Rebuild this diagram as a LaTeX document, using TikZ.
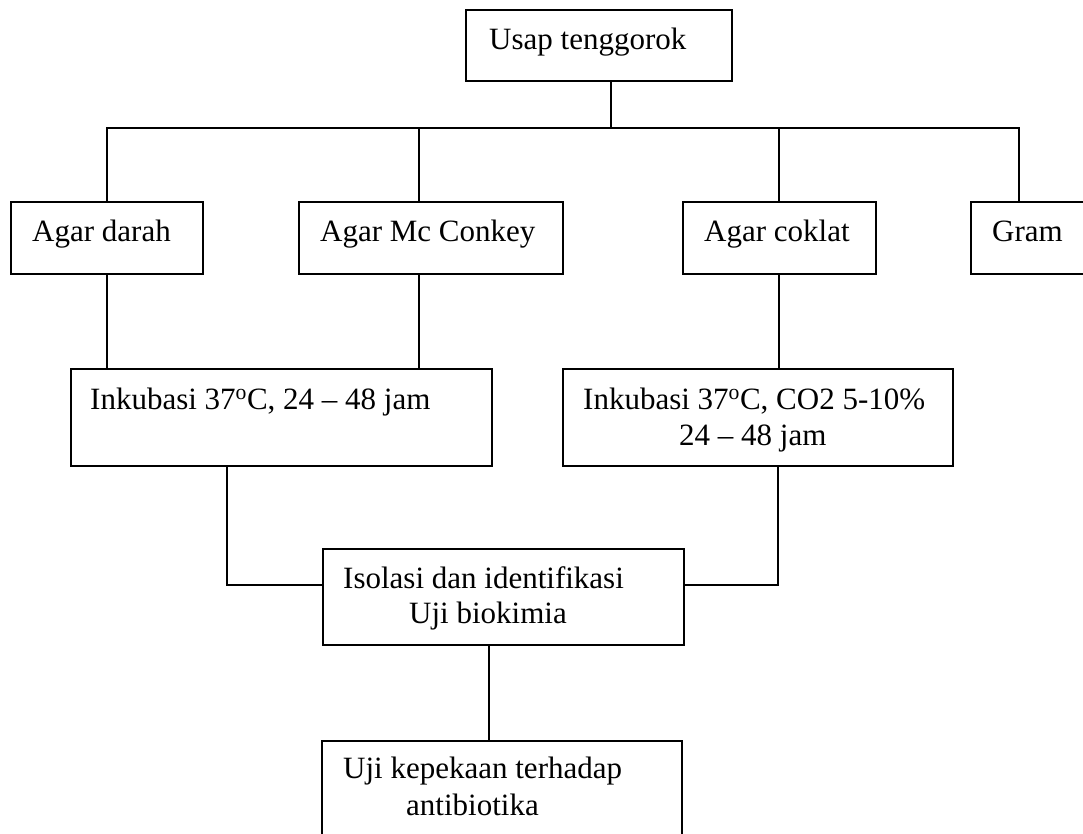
\documentclass[tikz,border=0pt]{standalone}
\usepackage{fontspec}
\setmainfont[Ligatures=NoCommon]{Liberation Serif}
\begin{document}
\begin{tikzpicture}[x=1pt,y=-1pt,
  box/.style={draw, line width=2pt, rectangle, inner sep=0pt, anchor=north west},
  txt/.style={anchor=base west, inner sep=0pt, font=\fontsize{31}{37}\selectfont},
  conn/.style={line width=2pt}]
\useasboundingbox (0,0) rectangle (1083,834);
% boxes
\node[box, minimum width=266pt, minimum height=71pt] (usap) at (465,9) {};
\node[box, minimum width=192pt, minimum height=72pt] (darah) at (10,201) {};
\node[box, minimum width=264pt, minimum height=72pt] (mc) at (298,201) {};
\node[box, minimum width=193pt, minimum height=72pt] (coklat) at (682,201) {};
\node[box, minimum width=125pt, minimum height=72pt] (gram) at (970,201) {};
\node[box, minimum width=421pt, minimum height=97pt] (inkA) at (70,368) {};
\node[box, minimum width=390pt, minimum height=97pt] (inkB) at (562,368) {};
\node[box, minimum width=361pt, minimum height=96pt] (iso) at (322,548) {};
\node[box, minimum width=360pt, minimum height=120pt] (uji) at (321,740) {};
% texts
\node[txt] (t1) at (489,50) {Usap tenggorok};
\node[txt] (t2) at (32,242) {Agar darah};
\node[txt] (t3) at (320,242) {Agar Mc Conkey};
\node[txt] (t4) at (704,242) {Agar coklat};
\node[txt] (t5) at (992,242) {Gram};
\node[txt] (t6) at (90,409) {Inkubasi 37\textsuperscript{o}C, 24 -- 48 jam};
\node[txt] (t7) at (583,409) {Inkubasi 37\textsuperscript{o}C, CO2 5-10\%};
\node[txt] (t8) at (679,445) {24 -- 48 jam};
\node[txt] (t9) at (343,588) {Isolasi dan identifikasi};
\node[txt] (t10) at (409,623) {Uji biokimia};
\node[txt] (t11) at (343,778) {Uji kepekaan terhadap};
\node[txt] (t12) at (406,815) {antibiotika};
% junction coordinates
\coordinate (b0) at (611,128);
\coordinate (b1) at (107,128);
\coordinate (b2) at (419,128);
\coordinate (b3) at (779,128);
\coordinate (b4) at (1019,128);
\coordinate (l1) at (227,585);
\coordinate (r1) at (778,585);
\coordinate (m1) at (489,700);
% connectors
\draw[conn] (usap.south -| b0) -- (b0);
\draw[conn] (darah.north -| b1) -- (b1) -- (b4) -- (gram.north -| b4);
\draw[conn] (mc.north -| b2) -- (b2);
\draw[conn] (coklat.north -| b3) -- (b3);
\draw[conn] (darah.south -| b1) -- (inkA.north -| b1);
\draw[conn] (mc.south -| b2) -- (inkA.north -| b2);
\draw[conn] (coklat.south -| b3) -- (inkB.north -| b3);
\draw[conn] (inkA.south -| l1) -- (l1) -- (iso.west |- l1);
\draw[conn] (inkB.south -| r1) -- (r1) -- (iso.east |- r1);
\draw[conn] (iso.south -| m1) -- (uji.north -| m1);
\end{tikzpicture}
\end{document}
